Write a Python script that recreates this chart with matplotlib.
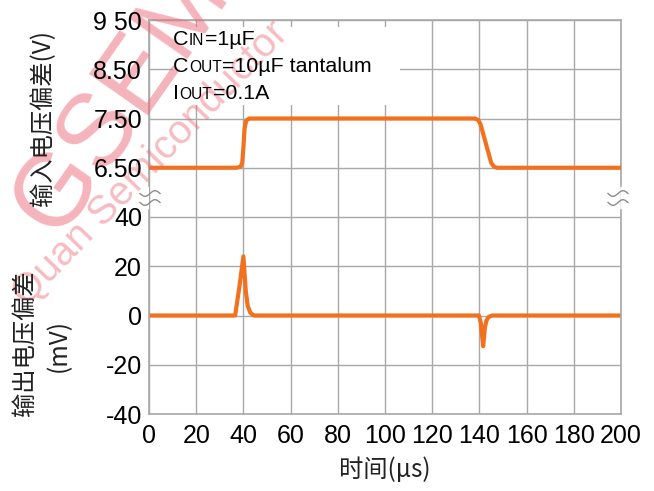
import matplotlib
matplotlib.use('Agg')
import numpy as np
import matplotlib.pyplot as plt
from matplotlib.patches import Rectangle
from matplotlib.lines import Line2D
from matplotlib.transforms import IdentityTransform

# ---------------- data ----------------
time_vin = [0, 37, 38.8, 39.5, 40.0, 40.5, 41.2, 42.5, 138, 139.5, 140.5, 145, 146.2, 147.5, 200]
vin = [6.5, 6.5, 6.52, 6.6, 6.9, 7.3, 7.46, 7.5, 7.5, 7.47, 7.38, 6.6, 6.52, 6.5, 6.5]

time_vout = [0, 36.5, 38.2, 40, 41, 41.8, 43, 44.5, 139.8, 140.6, 141.6, 142.3, 143, 144, 145.5, 200]
vout_mv = [0, 0, 11, 24, 10, 4, 1, 0, 0, -3, -12.5, -5, -2, -0.5, 0, 0]

x_ticks = [0, 20, 40, 60, 80, 100, 120, 140, 160, 180, 200]
v_ticks = [6.5, 7.5, 8.5, 9.5]
v_tick_labels = ['6.50', '7.50', '8.50', '9 50']
mv_ticks = [-40, -20, 0, 20, 40]
mv_tick_labels = ['-40', '-20', '0', '20', '40']

ORANGE = '#F2711F'
GRID = '#a8a8a8'
LATIN = ['Liberation Sans', 'DejaVu Sans']
CJK = ['Noto Sans CJK SC', 'DejaVu Sans']
IDT = IdentityTransform()

plt.rcParams['font.family'] = LATIN

W, H = 654, 491
fig = plt.figure(figsize=(W / 100, H / 100), dpi=100)

# axes geometry (pixels from top-left)
L, R, T, B = 149, 621, 20, 414
pos = [L / W, (H - B) / H, (R - L) / W, (B - T) / H]


def style(a, labels):
    a.set_facecolor('none')
    for s in a.spines.values():
        s.set_visible(False)
    a.tick_params(length=0, labelsize=18, pad=5)
    a.tick_params(axis='x', pad=7)
    if not labels:
        a.tick_params(labelleft=False, labelbottom=False)


# grid + output-deviation curve (mV)
ax = fig.add_axes(pos, zorder=0)
ax.set_xlim(0, 200)
ax.set_ylim(-40, 120)
ax.set_xticks(x_ticks)
ax.set_yticks(mv_ticks)
ax.grid(True, color=GRID, lw=1.0)
ax.set_axisbelow(True)
style(ax, False)

# grid + input-voltage curve (V)
ax2 = fig.add_axes(pos, zorder=0.1, sharex=ax)
ax2.set_ylim(1.5, 9.5)
ax2.set_yticks(v_ticks)
ax2.grid(True, axis='y', color=GRID, lw=1.0)
ax2.set_axisbelow(True)
style(ax2, False)

# label-only overlays (above the watermark)
labx = fig.add_axes(pos, zorder=3, sharex=ax)
labx.set_ylim(-40, 120)
labx.set_xticks(x_ticks)
labx.set_xticklabels([str(v) for v in x_ticks])
labx.set_yticks(mv_ticks)
labx.set_yticklabels(mv_tick_labels)
style(labx, True)

labv = fig.add_axes(pos, zorder=3.1, sharex=ax)
labv.set_ylim(1.5, 9.5)
labv.set_yticks(v_ticks)
labv.set_yticklabels(v_tick_labels)
style(labv, True)
labv.tick_params(labelbottom=False)

# frame with break on both sides
fkw = dict(color=GRID, lw=1.2, transform=ax2.transAxes, clip_on=False, zorder=1.5)
ax2.add_line(Line2D([0, 1], [0, 0], **fkw))
ax2.add_line(Line2D([0, 1], [1, 1], **fkw))
for xx in (0, 1):
    ax2.add_line(Line2D([xx, xx], [0, 0.518], **fkw))
    ax2.add_line(Line2D([xx, xx], [0.579, 1], **fkw))

# curves
ax.plot(time_vout, vout_mv, color=ORANGE, lw=3.0, solid_capstyle='butt',
        solid_joinstyle='round', zorder=3)
ax2.plot(time_vin, vin, color=ORANGE, lw=3.0, solid_capstyle='butt',
         solid_joinstyle='round', zorder=3)

# white box behind annotation (hides grid)
fig.add_artist(Rectangle((173, H - 105), 400 - 173, 105 - 27, transform=IDT,
                         facecolor='white', edgecolor='none', zorder=1))

# break markers (≈) drawn as two small waves
for cx in (150, 618):
    xs = np.linspace(-10, 10, 40)
    for dy in (4.5, -4.5):
        ys = (H - 198) + dy + 2.8 * np.sin(xs / 10 * np.pi)
        fig.add_artist(Line2D(cx + xs, ys, transform=IDT, color='#8c8c8c',
                              lw=1.0, zorder=4))

# ---------------- watermark ----------------
fig.text(130, H - 88, 'GSEMI', transform=IDT, fontsize=74,
         color='#ec6a78', alpha=0.5, rotation=55,
         rotation_mode='anchor', ha='center', va='center', zorder=2)
fig.text(150, H - 163, 'Quan Semiconductor', transform=IDT, fontsize=29,
         color='#ec6a78', alpha=0.45, rotation=46, rotation_mode='anchor',
         ha='center', va='center', zorder=2)

# annotation text with small caps
renderer = fig.canvas.get_renderer()


def rich(x, y, parts):
    for s, size in parts:
        t = fig.text(x, H - y, s, fontsize=size, va='baseline', ha='left',
                     transform=IDT, family=LATIN, zorder=5)
        bb = t.get_window_extent(renderer)
        x = bb.x1 + 0.5


BIG, SMALL = 15.4, 11.2
rich(173, 45, [('C', BIG), ('IN', SMALL), ('=1\u00b5F', BIG)])
rich(173, 72, [('C', BIG), ('OUT', SMALL), ('=10\u00b5F tantalum', BIG)])
rich(173, 99, [('I', BIG), ('OUT', SMALL), ('=0.1A', BIG)])

# axis labels
lab = dict(transform=IDT, ha='center', va='center', fontsize=17.5, family=CJK,
           color='#222222', zorder=5)
fig.text(43, H - 118, '输入电压偏差(V)', rotation=90, **lab)
fig.text(25, H - 343, '输出电压偏差', rotation=90, **lab)
fig.text(59, H - 345, '(mV)', rotation=90, **lab)
fig.text(385, H - 470, '时间(µs)', **lab)

fig.savefig('out.png', dpi=100)
